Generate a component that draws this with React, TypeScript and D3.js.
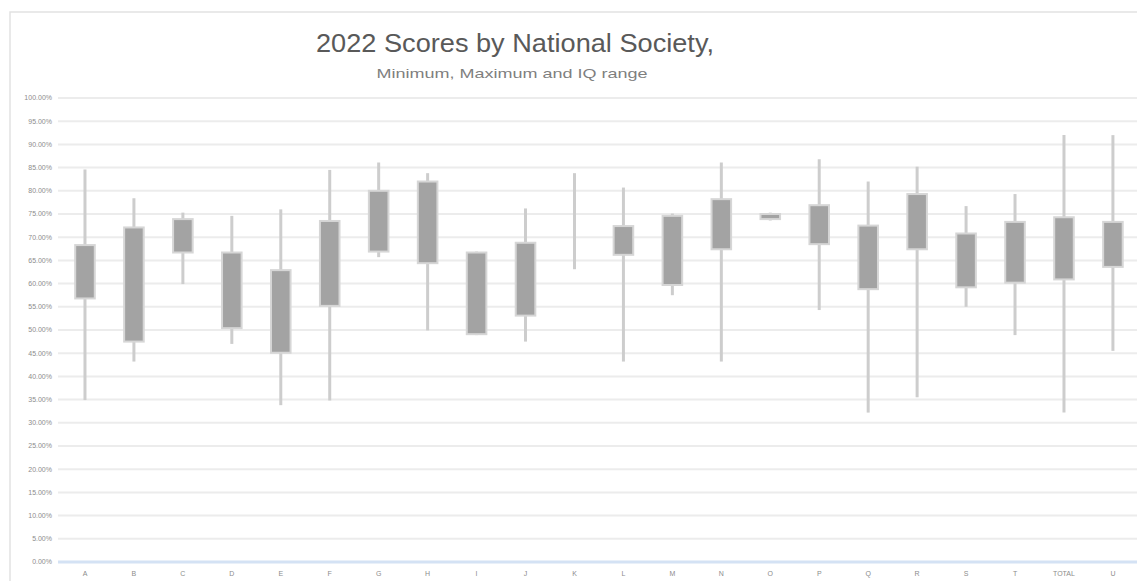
import React from 'react';
import * as d3 from 'd3';

// scores per national society (percent)
const categories = ['A', 'B', 'C', 'D', 'E', 'F', 'G', 'H', 'I', 'J', 'K', 'L', 'M', 'N', 'O', 'P', 'Q', 'R', 'S', 'T', 'TOTAL', 'U'];
const minValues = [34.9, 43.2, 59.9, 47.0, 33.8, 34.8, 65.7, 49.9, 48.9, 47.5, 63.1, 43.2, 57.5, 43.2, 73.6, 54.3, 32.2, 35.5, 55.0, 48.9, 32.2, 45.5];
const q1Values = [56.8, 47.5, 66.7, 50.4, 45.1, 55.2, 66.9, 64.4, 49.1, 53.1, null, 66.2, 59.7, 67.4, 73.9, 68.5, 58.8, 67.4, 59.2, 60.2, 60.9, 63.6];
const q3Values = [68.3, 72.1, 73.9, 66.7, 62.9, 73.5, 80.0, 82.0, 66.7, 68.8, null, 72.4, 74.6, 78.2, 75.0, 76.9, 72.5, 79.3, 70.8, 73.3, 74.3, 73.3];
const maxValues = [84.6, 78.4, 75.3, 74.6, 76.0, 84.5, 86.1, 83.8, 66.9, 76.2, 83.8, 80.7, 75.1, 86.1, 75.3, 86.8, 82.0, 85.2, 76.7, 79.3, 92.0, 92.0];

const title = '2022 Scores by National Society,';
const subtitle = 'Minimum, Maximum and IQ range';

const W = 1137;
const H = 581;

export default function App() {
  const margin = { top: 98, right: 0, bottom: 19, left: 60.5 };

  const x = d3.scaleBand<string>()
    .domain(categories)
    .range([margin.left, W + 0.4])
    .padding(0);

  const y = d3.scaleLinear()
    .domain([0, 100])
    .range([H - margin.bottom, margin.top]);

  const fmt = (v: number) => d3.format('.2%')(v / 100);
  const ticks = y.ticks(20);
  const boxW = x.bandwidth() * 0.4;

  return (
    <div style={{ position: 'absolute', left: 0, top: 0 }}>
      <svg width={W} height={H} style={{ display: 'block', background: '#fff' }}
        fontFamily="'Liberation Sans', Arial, sans-serif">
        {/* chart border */}
        <rect x={10} y={12} width={W + 10} height={H + 10} fill="none" stroke="#e2e2e2" strokeWidth={1.5} />

        <text x={515} y={52} textAnchor="middle" fontSize={25} fill="#595959"
          textLength={398} lengthAdjust="spacingAndGlyphs">{title}</text>
        <text x={512} y={78} textAnchor="middle" fontSize={13} fill="#7f7f7f"
          textLength={271} lengthAdjust="spacingAndGlyphs">{subtitle}</text>

        {/* gridlines + y labels */}
        {ticks.map(t => (
          <g key={t}>
            <line x1={58} x2={W} y1={y(t)} y2={y(t)}
              stroke={t === 0 ? '#d4e2f4' : '#ececec'} strokeWidth={t === 0 ? 3 : 2} />
            <text x={52} y={y(t)} dy="0.35em" textAnchor="end" fontSize={7} fill="#8c8c8c">{fmt(t)}</text>
          </g>
        ))}

        {/* boxes */}
        {categories.map((c, i) => {
          const cx = (x(c) ?? 0) + x.bandwidth() / 2;
          const q1 = q1Values[i];
          const q3 = q3Values[i];
          return (
            <g key={c}>
              <line x1={cx} x2={cx} y1={y(minValues[i])} y2={y(maxValues[i])}
                stroke="#cdcdcd" strokeWidth={3} />
              {q1 !== null && q3 !== null && (
                <rect x={cx - boxW / 2} y={y(q3)} width={boxW} height={y(q1) - y(q3)}
                  fill="#a3a3a3" stroke="#d6d6d6" strokeWidth={2} />
              )}
              <text x={cx} y={576} textAnchor="middle" fontSize={7} fill="#8c8c8c">{c}</text>
            </g>
          );
        })}
      </svg>
    </div>
  );
}
